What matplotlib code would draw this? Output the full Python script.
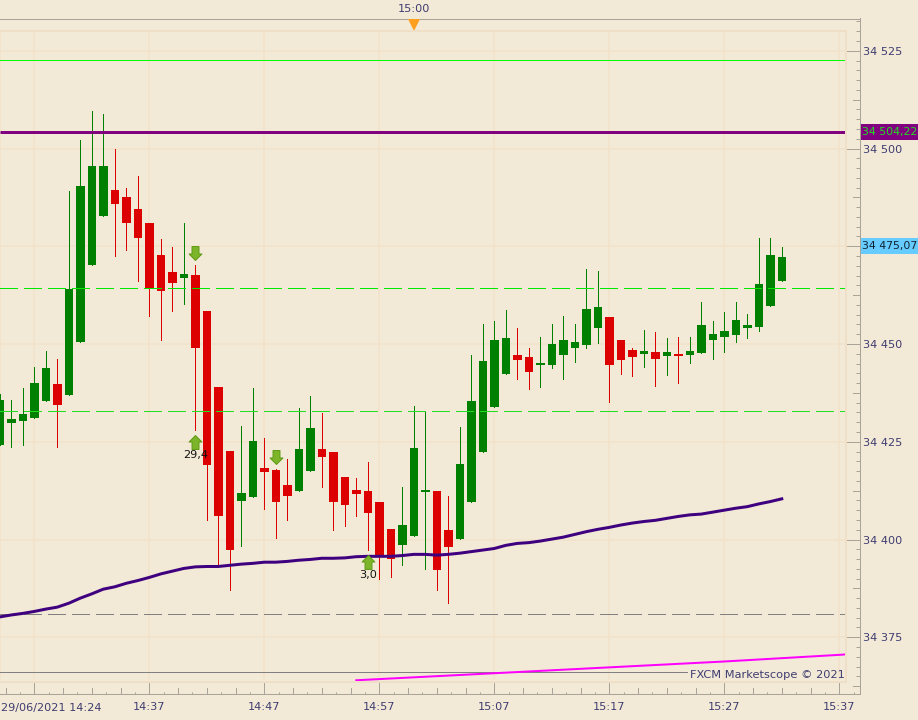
import matplotlib
matplotlib.use('Agg')
import matplotlib.pyplot as plt
from matplotlib.patches import Rectangle
from matplotlib.ticker import NullFormatter
import numpy as np

# all prices are points above 34 400, bars are indexed in minutes from 14:37
BASE = 34400
bars = np.arange(-13, 56)
opens = [24.2, 29.8, 30.3, 31.1, 35.4, 39.8, 37.0, 50.5, 70.2, 82.7, 89.4, 87.6, 84.5,
         80.9, 72.8, 68.4, 66.9, 67.6, 58.4, 39.0, 22.6, 9.8, 10.9,
         18.3, 17.8, 13.9, 12.4, 17.5, 23.1, 22.4, 16.0, 12.7, 12.4,
         9.6, 2.7, -1.4, 0.9, 12.1, 12.4, 2.4, 0.1, 9.6, 22.4,
         33.9, 42.3, 47.2, 46.7, 44.6, 44.6, 47.2, 49.0, 49.7, 54.1,
         56.9, 51.0, 48.5, 47.4, 48.0, 46.9, 47.4, 47.2, 47.7, 51.0,
         51.8, 52.3, 54.1, 54.3, 59.7, 66.1]
closes = [35.7, 30.8, 32.1, 40.0, 43.9, 34.4, 64.1, 90.4, 95.5, 95.5, 85.8, 80.9, 77.1,
          64.1, 63.6, 65.6, 67.9, 49.0, 19.1, 6.0, -2.7, 11.9, 25.2,
          17.3, 9.6, 11.1, 23.1, 28.5, 21.1, 9.6, 8.8, 11.6, 6.8,
          -4.5, -5.0, 3.7, 23.4, 12.7, -7.8, -1.9, 19.3, 35.4, 45.7,
          51.0, 51.5, 45.9, 42.8, 45.1, 50.0, 51.0, 50.5, 59.0, 59.5,
          44.6, 45.9, 46.7, 48.2, 46.2, 48.0, 46.9, 48.2, 54.9, 52.6,
          53.3, 56.1, 54.9, 65.3, 72.8, 72.3]
highs = [37.2, 35.7, 38.7, 44.1, 48.2, 46.2, 89.1, 102.2, 109.6, 108.8, 99.9, 89.9, 93.0,
         80.9, 76.9, 74.8, 80.9, 70.2, 58.4, 39.0, 22.6, 29.0, 38.7,
         26.0, 18.0, 20.6, 33.6, 36.7, 32.4, 22.4, 16.0, 15.7, 19.8,
         9.6, 2.7, 13.4, 34.1, 32.9, 12.4, 11.1, 28.8, 47.2, 55.1,
         55.9, 58.7, 54.1, 49.0, 51.8, 55.1, 57.2, 55.1, 69.2, 68.7,
         56.9, 51.0, 49.0, 53.6, 53.1, 51.5, 51.8, 51.8, 60.7, 55.9,
         58.2, 60.7, 57.7, 77.1, 77.1, 74.8]
lows = [24.2, 23.7, 24.2, 31.1, 35.4, 23.7, 37.0, 50.5, 70.2, 82.7, 72.6, 74.0, 66.1,
        57.2, 51.0, 58.4, 60.2, 28.0, 5.0, -6.5, -12.9, -1.7, 10.9,
        7.8, 0.4, 5.0, 12.4, 17.5, 13.4, 2.4, 3.5, 6.0, -2.7,
        -10.1, -9.6, -6.5, 0.9, -7.5, -12.9, -16.2, 0.1, 9.6, 22.4,
        33.9, 42.3, 41.0, 38.5, 39.0, 43.9, 41.0, 45.4, 49.0, 50.3,
        35.2, 42.3, 41.8, 44.1, 39.3, 42.1, 40.0, 45.1, 47.7, 46.2,
        48.0, 50.5, 51.5, 53.3, 59.7, 66.1]
moving_avg = [-19.8, -19.3, -18.9, -18.4, -17.8, -17.3, -16.3, -15.0, -13.9, -12.7, -12.1, -11.2, -10.5,
              -9.7, -8.8, -8.1, -7.4, -7.0, -6.9, -6.9, -6.6, -6.3, -6.1,
              -5.8, -5.8, -5.6, -5.3, -5.1, -4.8, -4.8, -4.7, -4.4, -4.3,
              -4.3, -4.3, -4.1, -3.8, -3.8, -4.0, -3.8, -3.5, -3.1, -2.7,
              -2.3, -1.5, -1.0, -0.8, -0.4, 0.1, 0.6, 1.3, 2.0, 2.6,
              3.1, 3.7, 4.2, 4.6, 4.9, 5.4, 5.9, 6.3, 6.5, 7.0,
              7.5, 8.0, 8.4, 9.1, 9.7, 10.4]
slow_bars = [18, 30, 40, 50, 60, 60.5]
slow_avg = [-36.0, -34.2, -32.7, -31.2, -29.5, -29.4]

level_top = 122.6
level_last = 104.22
level_upper_dash = 64.2
level_mid_dash = 32.8
level_low_dash = -19.1
level_grey = -34.0
current_price = 75.07

down_bars = [4, 11]
down_prices = [73.3, 21.1]
up_bars = [4, 19]
up_prices = [24.9, -5.8]
up_labels = ['29,4', '3,0']
up_label_prices = [21.6, -9.0]

x_ticks = [-10, 0, 10, 20, 30, 40, 50, 60]
x_labels = ['', '14:37', '14:47', '14:57', '15:07', '15:17', '15:27', '15:37']
y_ticks = [34375, 34400, 34425, 34450, 34475, 34500, 34525]
# 34 475 sits under the current price box
y_labels = ['34 375', '34 400', '34 425', '34 450', '', '34 500', '34 525']
event_bar = 23

BG = '#F2EAD7'
GRID = '#F2E2CB'
BORDER = '#EFDFC6'
AXIS = '#A8A498'
TEXT = '#3F3C70'
UP = '#008000'
DOWN = '#DC0000'
RIGHT_EDGE = 60.5  # last minute inside the plot frame
PX = 0.72  # one pixel in points at dpi 100
W, H = 918, 720

fig = plt.figure(figsize=(W / 100, H / 100), dpi=100, facecolor=BG)
plt.rcParams['font.family'] = 'DejaVu Sans'
ax = fig.add_axes([0, (H - 694.3) / H, 860.3 / W, (694.3 - 18.5) / H], facecolor=BG)
ax.set_xlim(-12.98, 61.83)
ax.set_ylim(34360.41, 34533.25)

opens = BASE + np.array(opens)
closes = BASE + np.array(closes)
highs = BASE + np.array(highs)
lows = BASE + np.array(lows)
colors = [UP if c >= o else DOWN for o, c in zip(opens, closes)]

# grid stays inside the inner frame
ax.hlines(y_ticks, -13, RIGHT_EDGE, color=GRID, lw=1.5 * PX, zorder=1)
ax.vlines([-13] + x_ticks, 34364.0, 34530.0, color=GRID, lw=1.5 * PX, zorder=1)
fig.add_artist(Rectangle((-2 / W, (H - 681.7) / H), 848 / W, 650.7 / H, transform=fig.transFigure,
                         fill=False, ec=BORDER, lw=2 * PX, zorder=1.5))

# no antialiasing on the thin lines, the terminal draws them one pixel wide
ax.vlines(bars, lows, highs, color=colors, lw=PX, zorder=3, antialiased=False)
ax.bar(bars, closes - opens, bottom=opens, width=0.74, color=colors, lw=0, zorder=3)

ax.hlines(BASE + level_top, -13, RIGHT_EDGE, color='#00FF00', lw=PX, zorder=4, antialiased=False)
ax.hlines(BASE + level_last, -13, RIGHT_EDGE, color='#800080', lw=3 * PX, zorder=4)
ax.plot([-12.98, RIGHT_EDGE], [BASE + level_upper_dash] * 2, color='#00E800', lw=PX, ls=(0, (18, 6)), zorder=4, antialiased=False)
ax.plot([-12.98, RIGHT_EDGE], [BASE + level_mid_dash] * 2, color='#22DD22', lw=PX, ls=(0, (18, 6)), zorder=4, antialiased=False)
ax.plot([-12.98, RIGHT_EDGE], [BASE + level_low_dash] * 2, color='#808080', lw=PX, ls=(0, (18, 6)), zorder=4, antialiased=False)
ax.hlines(BASE + level_grey, -13, 46.8, color='#808080', lw=PX, zorder=2, antialiased=False)

ax.plot(bars, BASE + np.array(moving_avg), color='#3F0080', lw=3 * PX, zorder=5)
ax.plot(slow_bars, BASE + np.array(slow_avg), color='#FF00FF', lw=2 * PX, zorder=5)

# signal arrows
arrow_up = [(0, 7), (6.5, 0.5), (3.5, 0.5), (3.5, -7), (-3.5, -7), (-3.5, 0.5), (-6.5, 0.5), (0, 7)]
arrow_down = [(x, -y) for x, y in arrow_up]
ax.plot(down_bars, BASE + np.array(down_prices), ls='', marker=arrow_down, ms=10, mfc='#7DB52A', mec='#5F9A14', mew=PX, zorder=6)
ax.plot(up_bars, BASE + np.array(up_prices), ls='', marker=arrow_up, ms=10, mfc='#7DB52A', mec='#5F9A14', mew=PX, zorder=6)
for bar, price, label in zip(up_bars, up_label_prices, up_labels):
    ax.text(bar, BASE + price, label, ha='center', va='center', fontsize=8.1, color='#111111', zorder=7)

# axes, ticks are inside the band between the frame and the spines
ax.spines['left'].set_visible(False)
for side in ['top', 'right', 'bottom']:
    ax.spines[side].set_color(AXIS)
    ax.spines[side].set_linewidth(PX)
ax.yaxis.tick_right()
ax.set_yticks(y_ticks)
ax.set_yticklabels(y_labels)
ax.set_yticks(np.arange(34362.5, 34533, 2.5), minor=True)
ax.set_xticks(x_ticks)
ax.set_xticklabels(x_labels)
ax.set_xticks(np.arange(-12.5, 61.5, 1.25), minor=True)
ax.xaxis.set_minor_formatter(NullFormatter())
ax.yaxis.set_minor_formatter(NullFormatter())
ax.tick_params(axis='y', which='major', direction='in', length=14 * PX, width=PX, color=AXIS, pad=3 * PX, labelsize=8.1, labelcolor=TEXT)
ax.tick_params(axis='y', which='minor', direction='in', length=4.5 * PX, width=PX, color=AXIS)
ax.tick_params(axis='x', which='major', direction='in', length=12.5 * PX, width=PX, color=AXIS, pad=8 * PX, labelsize=8.1, labelcolor=TEXT)
ax.tick_params(axis='x', which='minor', direction='in', length=2.5 * PX, width=PX, color=AXIS)
ax.hlines(np.arange(34362.5, 34533, 12.5), 1 - 7 / 860.3, 1, transform=ax.get_yaxis_transform(), color=AXIS, lw=PX, zorder=2, antialiased=False)
ax.vlines(np.arange(-12.5, 61, 2.5), 0, 6 / 675.8, transform=ax.get_xaxis_transform(), color=AXIS, lw=PX, zorder=2, antialiased=False)

fig.text(0.7 / W, 1 - 707.5 / H, '29/06/2021 14:24', ha='left', va='center', fontsize=8.1, color=TEXT)
fig.text(845 / W, 1 - 675 / H, 'FXCM Marketscope \u00a9 2021', ha='right', va='center', fontsize=8.2, color=TEXT, zorder=8)

# time marker on the top edge
ax.plot([event_bar], [1 - 6.5 / 675.8], transform=ax.get_xaxis_transform(), marker='v', ms=12 * PX, color='#FF9F20', mew=0, clip_on=False, zorder=7)
ax.text(event_bar, 1 + 9.5 / 675.8, '15:00', transform=ax.get_xaxis_transform(), ha='center', va='center', fontsize=8.1, color=TEXT)

# price boxes on the right
for price, box, col, label in [(level_last, '#800080', '#22DD22', '34 504,22'), (current_price, '#66CCFF', '#112233', '34 475,07')]:
    y = ax.transData.transform((0, BASE + price))[1]
    fig.add_artist(Rectangle((861 / W, (y - 8) / H), 57 / W, 16 / H, transform=fig.transFigure, fc=box, ec='none', zorder=6))
    fig.text(861.5 / W, y / H, label, ha='left', va='center', fontsize=7.8, color=col, zorder=7)

fig.savefig('out.png', dpi=100, facecolor=BG)
